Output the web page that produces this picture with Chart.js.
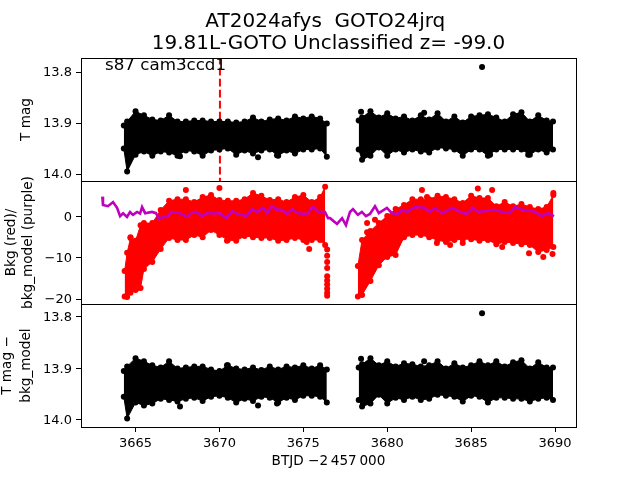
<!DOCTYPE html>
<html><head><meta charset="utf-8">
<style>html,body{margin:0;padding:0;background:#fff}canvas{display:block}</style>
<script src="https://cdn.jsdelivr.net/npm/chart.js@4"></script>
</head><body><canvas id="c" width="640" height="480"></canvas>
<script>
const titleLines=["AT2024afys  GOTO24jrq ","19.81L-GOTO Unclassified z= -99.0"];
const annotationText="s87 cam3ccd1";
const xTicks=[3665,3670,3675,3680,3685,3690];
const magTicks=[13.8,13.9,14.0];
const bkgTicks=[0,-10,-20];

const daysA=[3664.3,3664.5,3665,3665.5,3666,3666.5,3667,3667.5,3668,3668.5,3669,3669.5,3670,3670.5,3671,3671.5,3672,3672.5,3673,3673.5,3674,3674.5,3675,3675.5,3676,3676.4];
const daysB=[3678.3,3678.5,3679,3679.5,3680,3680.5,3681,3681.5,3682,3682.5,3683,3683.5,3684,3684.5,3685,3685.5,3686,3686.5,3687,3687.5,3688,3688.5,3689,3689.5,3689.88];
const daysMidA=[3664.35,3664.5,3664.7,3665,3665.3,3665.5,3666,3666.5,3667,3667.5,3668,3668.5,3669,3669.5,3670,3670.5,3671,3671.5,3672,3672.5,3673,3673.5,3674,3674.5,3675,3675.5,3676,3676.3];
const daysMidB=[3678.25,3678.5,3679,3679.5,3680,3680.5,3681,3681.5,3682,3682.5,3683,3683.5,3684,3684.5,3685,3685.5,3686,3686.5,3687,3687.5,3688,3688.5,3689,3689.5,3689.9];

const magHighA=[13.905,13.897,13.877,13.885,13.893,13.895,13.885,13.897,13.897,13.895,13.895,13.897,13.897,13.897,13.899,13.897,13.889,13.897,13.893,13.891,13.895,13.887,13.891,13.887,13.891,13.901];
const magLowA=[13.950,13.995,13.962,13.956,13.964,13.956,13.958,13.964,13.954,13.956,13.964,13.954,13.952,13.950,13.962,13.954,13.960,13.954,13.952,13.964,13.954,13.960,13.952,13.952,13.950,13.966];
const magHighB=[13.895,13.889,13.877,13.889,13.881,13.891,13.887,13.895,13.885,13.893,13.881,13.897,13.887,13.899,13.887,13.885,13.883,13.889,13.897,13.883,13.879,13.897,13.885,13.895,13.897];
const magLowB=[13.952,13.972,13.964,13.948,13.964,13.952,13.958,13.952,13.956,13.958,13.948,13.950,13.952,13.964,13.952,13.952,13.964,13.952,13.952,13.952,13.952,13.962,13.952,13.958,13.952];
const magDotX=[3685.65,3672.3,3673.43,3667.65,3678.44,3682.2,3686.13,3688.4];
const magDotY=[13.7902,13.967,13.963,13.965,13.878,13.880,13.962,13.962];

const bkgHighA=[-13.2,-8.8,-5.2,-5.9,-2.1,-1.6,-1.6,1.6,3.8,4.2,4.2,3.5,4.7,5.2,4.0,3.8,3.8,4.2,5.7,5.0,4.0,4.2,3.5,4.7,5.2,3.5,4.7,7.2];
const bkgLowA=[-19.4,-19.5,-18.5,-17.8,-17.3,-12.7,-11,-7.9,-5.2,-5.7,-5.7,-4.5,-5,-3.3,-4.5,-5.7,-5.9,-4.7,-5,-5.2,-5.2,-5.9,-5.7,-5.2,-5.7,-5.7,-5.7,-6.9];
const bkgHighB=[-12,-5.7,-3.5,-1.6,0.1,1.8,2.8,4.2,4.2,4.2,5,4.7,4.2,3.3,5,4.5,4.5,2.5,3.5,2.5,3,2.3,1.8,2.3,5.2];
const bkgLowB=[-19.4,-19,-15.6,-11.8,-9.8,-9.3,-5,-4.5,-4.5,-5,-5.7,-6.2,-5.7,-5.5,-5.5,-5.9,-5.7,-6.7,-6.2,-6.4,-6.7,-6.9,-8.6,-8.1,-7.4];
const bkgDotX=[3676.42,3676.42,3676.42,3676.42,3676.42,3676.42,3676.42,3676.42,3676.42,3676.42,3678.8,3678.8,3679.27,3682.07,3682.37,3685.4,3686.25,3682.96,3683.75,3684.5,3686.85,3688.45,3689.3,3689.85,3689.9,3668,3670,3675.35,3675.2,3670.45,3664.7,3665.15];
const bkgDotY=[-8,-9.5,-11,-12.5,-14.5,-15.5,-16.5,-17.5,-18.5,-19.2,-3.8,-1.6,-0.8,6.4,4.7,6.8,6.4,-6.4,-6.9,-6.4,-7.4,-8.9,-9.8,-9.1,5.7,6.4,6.9,-7.9,-6.2,-5.9,-5,-17.3];

const modelX=[3663.02,3663.06,3663.36,3663.66,3663.9,3664.08,3664.26,3664.49,3664.67,3664.85,3665.09,3665.27,3665.39,3665.57,3665.98,3666.22,3666.4,3666.64,3666.88,3667.12,3667.65,3668.07,3668.43,3668.67,3668.96,3669.26,3670.04,3670.39,3670.75,3671.11,3671.64,3671.94,3672.24,3672.6,3672.84,3673.13,3673.43,3673.73,3674.03,3674.33,3674.68,3675.22,3675.58,3675.88,3676.29,3676.47,3676.59,3677.01,3677.31,3677.54,3677.78,3677.96,3678.25,3678.49,3678.73,3678.97,3679.27,3679.5,3679.98,3680.28,3680.64,3680.88,3681.18,3681.66,3682.25,3682.55,3682.85,3683.27,3683.92,3684.34,3684.75,3685.11,3685.41,3686.3,3686.9,3687.32,3687.62,3688.09,3688.69,3689.22,3689.58,3689.94];
const modelY=[4.8,2.8,2.5,3.5,2.1,0.1,0.8,-0.1,1.1,0.4,1.1,0.7,2.3,0.8,1.1,0.8,-0.6,-0.1,-0.1,1.1,0.8,-0.1,1.1,1.1,0.1,0.8,0.8,-0.4,1.3,0.6,0.1,1.8,1.1,2.1,0.8,2.5,1.6,1.6,0.6,1.8,0.8,0.6,2.3,1.1,1.1,-0.4,-0.4,-1.8,-0.4,-2.1,1.1,1.8,0.4,1.1,0.1,0.6,2.5,0.8,2.1,0.8,0.6,1.6,1.1,2.3,2.1,1.1,2.1,0.8,2.1,1.1,0.6,2.1,1.1,1.6,1.1,0.8,2.3,1.6,1.3,0.1,0.8,0.1];

const corrHighA=[13.905,13.896,13.880,13.886,13.894,13.898,13.886,13.900,13.898,13.896,13.896,13.902,13.905,13.894,13.900,13.902,13.898,13.903,13.896,13.902,13.896,13.898,13.894,13.900,13.894,13.902];
const corrLowA=[13.955,13.997,13.966,13.972,13.968,13.959,13.961,13.964,13.959,13.957,13.963,13.955,13.953,13.957,13.966,13.959,13.963,13.955,13.957,13.966,13.957,13.961,13.953,13.953,13.955,13.966];
const corrHighB=[13.898,13.892,13.880,13.894,13.886,13.896,13.890,13.892,13.896,13.894,13.886,13.900,13.890,13.898,13.894,13.886,13.894,13.886,13.896,13.888,13.884,13.900,13.888,13.898,13.898];
const corrLowB=[13.961,13.974,13.968,13.951,13.968,13.957,13.961,13.955,13.961,13.959,13.951,13.953,13.955,13.964,13.953,13.955,13.966,13.957,13.957,13.959,13.959,13.964,13.959,13.957,13.961];
const corrDotX=[3685.65,3678.44,3682.2,3667.65,3672.3,3673.43,3670.45];
const corrDotY=[13.793,13.881,13.886,13.974,13.972,13.968,13.894];

const markerX=[3670.03,3670.03];
const markerY=[13.77,14.02];
const FONT="'DejaVu Sans'";
const BLACK='#000', RED='#ff0000', PURPLE='#bf00bf';

const zip=(xs,ys)=>xs.map((x,i)=>({x,y:ys[i]}));
const dotR=3;
function band(xs,hi,lo,axis,color){
  const base={type:'line',yAxisID:axis,borderColor:color,backgroundColor:color,pointBackgroundColor:color,pointBorderWidth:0,pointRadius:dotR,borderWidth:1,tension:0};
  return [Object.assign({},base,{data:zip(xs,hi),fill:'+1'}),Object.assign({},base,{data:zip(xs,lo),fill:false})];
}
function dots(xs,ys,axis,color){
  return {type:'line',yAxisID:axis,showLine:false,pointBackgroundColor:color,pointBorderWidth:0,pointRadius:dotR,data:zip(xs,ys)};
}
const datasets=[
  {type:'line',yAxisID:'yBkg',data:zip(modelX,modelY),borderColor:PURPLE,borderWidth:2.6,pointRadius:0,fill:false,tension:0},
  ...band(daysA,magHighA,magLowA,'yMag',BLACK),
  ...band(daysB,magHighB,magLowB,'yMag',BLACK),
  dots(magDotX,magDotY,'yMag',BLACK),
  ...band(daysMidA,bkgHighA,bkgLowA,'yBkg',RED),
  ...band(daysMidB,bkgHighB,bkgLowB,'yBkg',RED),
  dots(bkgDotX,bkgDotY,'yBkg',RED),
  ...band(daysA,corrHighA,corrLowA,'yCorr',BLACK),
  ...band(daysB,corrHighB,corrLowB,'yCorr',BLACK),
  dots(corrDotX,corrDotY,'yCorr',BLACK),
  {type:'line',yAxisID:'yMag',data:zip(markerX,markerY),borderColor:RED,borderWidth:2,borderDash:[7.7,3.3],pointRadius:0,fill:false}
];

function yAxis(min,max,reverse,ticks,fmt,title,pad,weight,lh){
  return {
    type:'linear',position:'left',stack:'panels',stackWeight:1,weight,min,max,reverse,
    afterBuildTicks:s=>{s.ticks=ticks.map(v=>({value:v}));},
    afterFit:s=>{s.width=81;},
    border:{display:false},
    grid:{drawOnChartArea:false,drawTicks:true,tickLength:5,color:BLACK,lineWidth:1},
    ticks:{color:BLACK,padding:4,labelOffset:1,autoSkip:false,maxRotation:0,font:{family:FONT,size:13},callback:fmt},
    title:{display:true,text:title,color:BLACK,font:{family:FONT,size:13.6,lineHeight:lh},padding:{top:pad,bottom:0}}
  };
}
const magFmt=v=>v.toFixed(1);
const bkgFmt=v=>String(v).replace('-','\u2212');

const decor={id:'decor',afterDatasetsDraw(ch){
  const {ctx,chartArea:a,scales}=ch;
  ctx.save();
  ctx.fillStyle=BLACK;ctx.font="16.7px "+FONT;ctx.textBaseline='alphabetic';
  ctx.fillText(annotationText,scales.x.getPixelForValue(3663.18),scales.yMag.getPixelForValue(13.796));
  ctx.strokeStyle=BLACK;ctx.lineWidth=1;
  for(const k of ['yMag','yBkg','yCorr']){const s=scales[k];
    ctx.strokeRect(Math.round(a.left)+.5,Math.round(s.top)+.5,Math.round(a.right-a.left),Math.round(s.bottom-s.top));}
  ctx.restore();
}};

new Chart(document.getElementById('c'),{
  type:'line',
  data:{datasets},
  plugins:[decor],
  options:{
    responsive:false,animation:false,
    devicePixelRatio:1,
    layout:{padding:{left:0,right:64,top:0,bottom:0}},
    plugins:{
      legend:{display:false},tooltip:{enabled:false},
      title:{display:true,fullSize:false,text:titleLines,color:BLACK,font:{family:FONT,size:20,weight:'normal',lineHeight:1.1},padding:{top:11,bottom:3}}
    },
    scales:{
      x:{type:'linear',min:3661.75,max:3691.25,
        afterBuildTicks:s=>{s.ticks=xTicks.map(v=>({value:v}));},
        afterFit:s=>{s.height=53;},
        border:{display:false},
        grid:{drawOnChartArea:false,drawTicks:true,tickLength:5,color:BLACK,lineWidth:1},
        ticks:{color:BLACK,padding:4,autoSkip:false,maxRotation:0,font:{family:FONT,size:13},callback:v=>String(v)},
        title:{display:true,text:'BTJD \u22122\u2009457\u2009000',color:BLACK,font:{family:FONT,size:13.6},padding:{top:0,bottom:10}}},
      yCorr:yAxis(13.775,14.0136,true,magTicks,magFmt,['T mag \u2212','bkg_model'],-2.5,1,1.4),
      yBkg:yAxis(-21.2,8.6,false,bkgTicks,bkgFmt,['Bkg (red)/','bkg_model (purple)'],2.5,2,1.25),
      yMag:yAxis(13.7725,14.0137,true,magTicks,magFmt,'T mag',16.5,3,1.4)
    }
  }
});
</script></body></html>
